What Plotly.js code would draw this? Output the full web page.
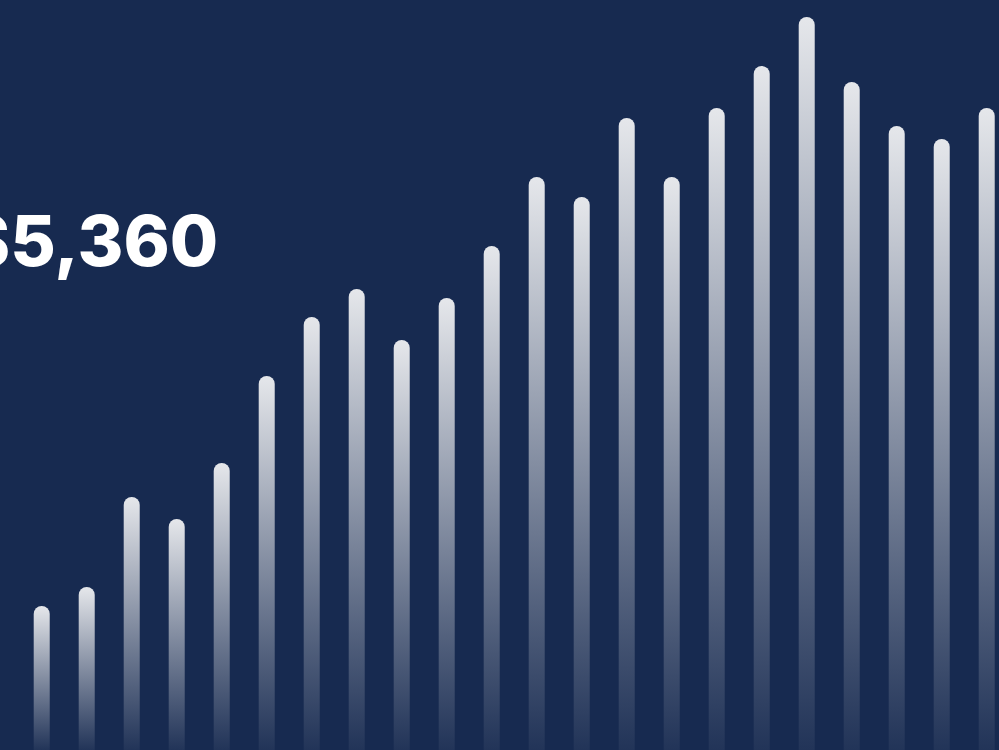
<!DOCTYPE html>
<html>
<head>
<meta charset="utf-8">
<script src="https://cdn.plot.ly/plotly-3.0.1.min.js"></script>
<style>
  html, body { margin: 0; padding: 0; background: #172a50; }
  #chart { width: 999px; height: 750px; }
</style>
</head>
<body>
<div id="chart"></div>
<script>
// Data
const periods = ["1","2","3","4","5","6","7","8","9","10","11","12","13","14","15","16","17","18","19","20","21","22"];
const values = [144, 163, 253, 231, 287, 374, 433, 461, 410, 452, 504, 573, 553, 632, 573, 642, 684, 733, 668, 624, 611, 642];
const headline = "$5,360";

const bg = "#172a50";

const trace = {
  type: "bar",
  x: periods.map((_, i) => i),
  y: values,
  width: 0.356,
  marker: { color: "#eef0f3", cornerradius: "50%", line: { width: 0 } },
  hoverinfo: "skip"
};

const layout = {
  width: 999,
  height: 750,
  margin: { l: 0, r: 0, t: 0, b: 0, pad: 0 },
  paper_bgcolor: bg,
  plot_bgcolor: bg,
  showlegend: false,
  xaxis: { range: [-0.927, 21.273], visible: false, fixedrange: true },
  yaxis: { range: [0, 750], visible: false, fixedrange: true },
  annotations: [{
    text: headline,
    xref: "paper", yref: "paper",
    x: 220 / 999, y: 0.679,
    xanchor: "right", yanchor: "middle",
    showarrow: false,
    font: { family: "Inter, 'Open Sans', sans-serif", size: 70, color: "#ffffff", weight: 800 }
  }]
};

Plotly.newPlot("chart", [trace], layout, { staticPlot: true, displayModeBar: false }).then(function (gd) {
  const svg = gd.querySelector(".main-svg");
  const NS = "http://www.w3.org/2000/svg";
  let defs = svg.querySelector("defs");
  if (!defs) { defs = document.createElementNS(NS, "defs"); svg.insertBefore(defs, svg.firstChild); }
  const grad = document.createElementNS(NS, "linearGradient");
  grad.setAttribute("id", "barFade");
  grad.setAttribute("x1", "0"); grad.setAttribute("y1", "0");
  grad.setAttribute("x2", "0"); grad.setAttribute("y2", "1");
  [[0, 0.95], [1, 0.05]].forEach(function (s) {
    const st = document.createElementNS(NS, "stop");
    st.setAttribute("offset", s[0]);
    st.setAttribute("stop-color", "#f0f1f3");
    st.setAttribute("stop-opacity", s[1]);
    grad.appendChild(st);
  });
  defs.appendChild(grad);
  gd.querySelectorAll(".trace.bars .point path").forEach(function (p) {
    p.style.fill = "url(#barFade)";
    p.style.fillOpacity = 1;
  });
});
</script>
</body>
</html>
